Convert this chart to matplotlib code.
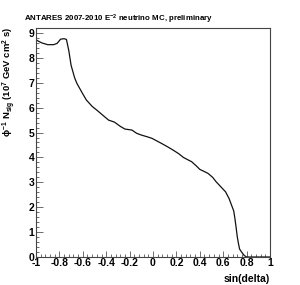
import numpy as np
import matplotlib
matplotlib.use("Agg")
import matplotlib.pyplot as plt
from matplotlib.ticker import MultipleLocator

# values
sin_delta = [-1.0, -0.95, -0.90, -0.85, -0.82, -0.79, -0.76, -0.74, -0.72,
             -0.70, -0.67, -0.65, -0.60, -0.57, -0.52, -0.48, -0.43, -0.38,
             -0.33, -0.28, -0.24, -0.18, -0.14, -0.10, -0.05, -0.01, 0.03,
             0.07, 0.12, 0.17, 0.22, 0.26, 0.30, 0.33, 0.37, 0.40, 0.44,
             0.47, 0.51, 0.54, 0.58, 0.62, 0.65, 0.67, 0.69, 0.70, 0.71,
             0.72, 0.73, 0.74, 0.76, 0.78, 0.80, 1.0]
n_sig = [8.72, 8.60, 8.53, 8.53, 8.58, 8.75, 8.77, 8.74, 8.30,
         7.70, 7.20, 6.97, 6.55, 6.31, 6.05, 5.90, 5.70, 5.50,
         5.42, 5.25, 5.14, 5.10, 4.97, 4.90, 4.83, 4.77, 4.67,
         4.57, 4.44, 4.30, 4.15, 4.00, 3.90, 3.83, 3.66, 3.52, 3.43,
         3.36, 3.20, 3.02, 2.82, 2.62, 2.35, 2.10, 1.85, 1.55, 1.20,
         0.82, 0.55, 0.32, 0.18, 0.06, 0.0, 0.0]
xlabels = ['-1', '-0.8', '-0.6', '-0.4', '-0.2', '0', '0.2', '0.4', '0.6', '0.8', '1']

plt.rcParams['font.family'] = ['Liberation Sans', 'DejaVu Sans']
plt.rcParams['font.weight'] = 'bold'
plt.rcParams['mathtext.fontset'] = 'custom'
plt.rcParams['mathtext.rm'] = 'Liberation Sans:bold'
plt.rcParams['mathtext.it'] = 'Liberation Sans:bold'

fig = plt.figure(figsize=(3.0, 2.85), dpi=100)
ax = fig.add_axes([0.12, 0.0982, 0.78, 0.8036])

ax.plot(sin_delta, n_sig, color='#111111', lw=0.9)
ax.set_xlim(-1, 1)
ax.set_ylim(0, 9.2)

ax.set_xticks(np.linspace(-1, 1, 11))
ax.set_xticklabels(xlabels)
ax.xaxis.set_minor_locator(MultipleLocator(0.04))
ax.yaxis.set_major_locator(MultipleLocator(1))
ax.yaxis.set_minor_locator(MultipleLocator(0.2))
ax.tick_params(which='both', direction='in', top=False, right=False,
               labelsize=7.5, pad=1, width=0.6, color='#555555')
ax.tick_params(axis='y', which='major', length=5)
ax.tick_params(axis='y', which='minor', length=2.5)
ax.tick_params(axis='x', which='major', length=4)
ax.tick_params(axis='x', which='minor', length=2)
for lab in ax.get_xticklabels() + ax.get_yticklabels():
    lab.set_fontweight('bold')

for s in ax.spines.values():
    s.set_linewidth(0.8)
    s.set_color('#444444')

ax.set_xlabel('sin(delta)', fontsize=7.5, fontweight='bold')
ax.xaxis.set_label_coords(1.0, -0.075)
ax.xaxis.label.set_horizontalalignment('right')

fig.text(0.032, 0.905, r'$\phi^{-1}$ N$_{sig}$ (10$^7$ GeV cm$^2$ s)', fontsize=6.8,
         fontweight='bold', rotation=90, ha='center', va='top')

fig.text(0.08, 0.933, r'ANTARES 2007-2010 E$^{-2}$ neutrino MC, preliminary',
         fontsize=5.7, fontweight='bold', va='center')

fig.savefig('out.png', dpi=100)
